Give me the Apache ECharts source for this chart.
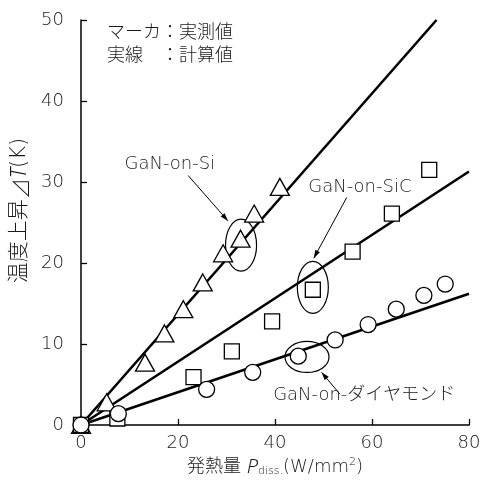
<!DOCTYPE html>
<html><head><meta charset="utf-8">
<script src="https://cdn.jsdelivr.net/npm/echarts@6/dist/echarts.min.js"></script>
<style>html,body{margin:0;padding:0;background:#fff}#c{width:486px;height:482px}</style>
</head><body><div id="c"></div>
<script>
// axis ticks
const xTicks = [0, 20, 40, 60, 80];
const yTicks = [0, 10, 20, 30, 40, 50];

// measured temperature rise: [P_diss (W/mm2), ΔT (K)]
const siMeasured = [[0,0],[5.3,2.8],[13.2,7.7],[17.2,11.3],[21.1,14.3],[25.1,17.6],[29.3,21.2],[32.9,23.0],[35.7,26.1],[41.0,29.4]];
const sicMeasured = [[0,0],[7.5,0.8],[23.2,5.9],[31.1,9.1],[39.4,12.8],[47.8,16.7],[56.0,21.4],[64.1,26.1],[71.8,31.5]];
const diamondMeasured = [[0,0],[7.7,1.4],[25.9,4.4],[35.4,6.5],[44.8,8.5],[52.4,10.5],[59.2,12.4],[65.0,14.3],[70.7,16.0],[75.1,17.4]];

// calculated temperature rise (straight lines)
const siCalc = [[0,0],[73.3,50]];
const sicCalc = [[0,0],[80,31.3]];
const diamondCalc = [[0,0],[80,16.2]];

// callout labels
const callouts = [
  { text: 'GaN-on-Si',     label: [18.3, 32.2], from: [22.1, 30.8], to: [30.3, 25.2], ellipse: [33.0, 22.2], rx: 15.5, ry: 26 },
  { text: 'GaN-on-SiC',    label: [57.5, 29.4], from: [54.8, 28.1], to: [48.0, 20.6], ellipse: [47.8, 17.0], rx: 15.5, ry: 26 },
  { text: 'GaN-on-ダイヤモンド', label: [58.4, 3.7], from: [53.4, 3.8], to: [49.6, 6.5], ellipse: [46.6, 8.4], rx: 22, ry: 15.5 }
];

const FONT = '"DejaVu Sans", "Noto Sans CJK JP", sans-serif';
const FONT_I = '"Noto Sans", "DejaVu Sans", sans-serif';
const W = 200;
const INK = '#1a1a1a';

const chart = echarts.init(document.getElementById('c'), null, { renderer: 'canvas' });

function lineSeries(data) {
  return { type: 'line', data: data, symbol: 'none', z: 3, silent: true,
    lineStyle: { color: '#000', width: 2.6 }, animation: false };
}
function markSeries(data, symbol, size) {
  return { type: 'scatter', data: data, symbol: symbol, symbolSize: size, z: 5, clip: false,
    itemStyle: { color: '#fff', borderColor: '#000', borderWidth: 1.3, opacity: 1 }, animation: false };
}

chart.setOption({
  animation: false,
  grid: { left: 81, right: 17, top: 20, bottom: 54 },
  xAxis: {
    type: 'value', min: xTicks[0], max: xTicks[xTicks.length - 1], interval: 20,
    axisLine: { lineStyle: { color: '#000', width: 1.5 } },
    axisTick: { inside: true, length: 6, lineStyle: { color: '#000', width: 1.3 } },
    splitLine: { show: false },
    axisLabel: { color: INK, fontSize: 18, fontFamily: FONT, fontWeight: W, margin: 9 },
    name: '発熱量 {i|P}{s|diss.}(W/mm{u|2})',
    nameLocation: 'middle', nameGap: 32,
    nameTextStyle: {
      color: INK, fontSize: 18, fontFamily: FONT, fontWeight: W,
      rich: {
        i: { fontSize: 20, fontStyle: 'italic', fontFamily: FONT_I, fontWeight: 300, color: INK },
        s: { fontSize: 11, verticalAlign: 'bottom', fontFamily: FONT, fontWeight: W, color: INK, padding: [6, 0, 0, 0] },
        u: { fontSize: 11, verticalAlign: 'top', fontFamily: FONT, fontWeight: W, color: INK, padding: [0, 0, 6, 0] }
      }
    }
  },
  yAxis: {
    type: 'value', min: yTicks[0], max: yTicks[yTicks.length - 1], interval: 10,
    axisLine: { lineStyle: { color: '#000', width: 1.5 } },
    axisTick: { inside: true, length: 6, lineStyle: { color: '#000', width: 1.3 } },
    splitLine: { show: false },
    axisLabel: { color: INK, fontSize: 18, fontFamily: FONT, fontWeight: W, margin: 17 },
    name: '温度上昇{t|⊿}{i|T}(K)',
    nameLocation: 'middle', nameGap: 47, nameRotate: 90,
    nameTextStyle: {
      color: INK, fontSize: 21, fontFamily: FONT, fontWeight: W, padding: [0, 0, 0, 24],
      rich: {
        t: { fontSize: 21, fontFamily: '"Noto Sans CJK JP", sans-serif', fontWeight: W, color: INK },
        i: { fontSize: 21, fontStyle: 'italic', fontFamily: FONT_I, fontWeight: 300, color: INK }
      }
    }
  },
  series: [
    lineSeries(siCalc), lineSeries(sicCalc), lineSeries(diamondCalc),
    markSeries(siMeasured, 'triangle', [19, 17]),
    markSeries(sicMeasured, 'rect', 15),
    markSeries(diamondMeasured, 'circle', 16)
  ]
});

// callouts and note text, placed through the grid's coordinate system
function px(p) { return chart.convertToPixel({ gridIndex: 0 }, p); }
const graphics = [];
callouts.forEach(function (c) {
  const e = px(c.ellipse), l = px(c.label), a = px(c.from), b = px(c.to);
  graphics.push({ type: 'ellipse', z: 1, shape: { cx: e[0], cy: e[1], rx: c.rx, ry: c.ry },
    style: { fill: 'none', stroke: '#000', lineWidth: 1.2 } });
  graphics.push({ type: 'line', z: 1, shape: { x1: a[0], y1: a[1], x2: b[0], y2: b[1] },
    style: { stroke: '#000', lineWidth: 1 } });
  const ang = Math.atan2(b[1] - a[1], b[0] - a[0]);
  const len = 8, half = 2.6;
  const bx = b[0] - len * Math.cos(ang), by = b[1] - len * Math.sin(ang);
  graphics.push({ type: 'polygon', z: 1, shape: { points: [
      [b[0], b[1]],
      [bx + half * Math.sin(ang), by - half * Math.cos(ang)],
      [bx - half * Math.sin(ang), by + half * Math.cos(ang)] ] },
    style: { fill: '#000' } });
  graphics.push({ type: 'text', z: 6, x: l[0], y: l[1],
    style: { text: c.text, fill: INK, font: W + ' 18px ' + FONT, textAlign: 'center', textVerticalAlign: 'middle' } });
});
graphics.push({ type: 'text', z: 6, x: 107, y: 33,
  style: { text: 'マーカ：実測値', fill: INK, font: W + ' 18px ' + FONT, textVerticalAlign: 'middle' } });
graphics.push({ type: 'text', z: 6, x: 107, y: 56,
  style: { text: '実線　：計算値', fill: INK, font: W + ' 18px ' + FONT, textVerticalAlign: 'middle' } });
chart.setOption({ graphic: graphics });
</script>
</body></html>
